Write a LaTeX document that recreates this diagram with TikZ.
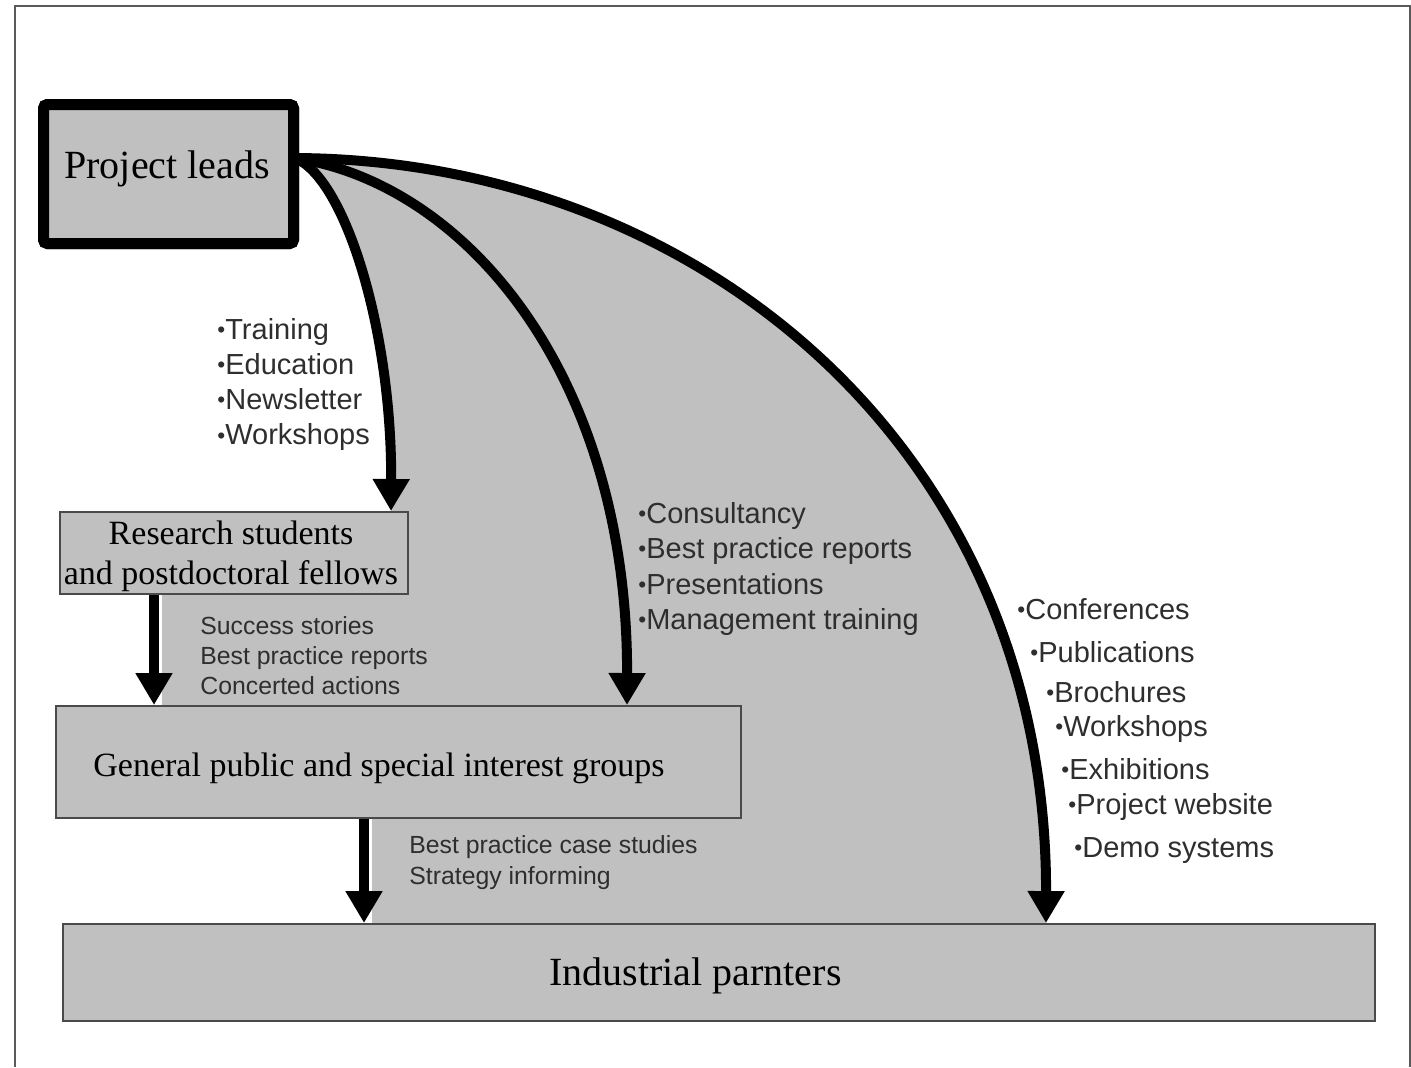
\documentclass[tikz,border=0pt]{standalone}
\usepackage{fontspec}
\usepackage{graphicx}
\setmainfont{Liberation Serif}
\setsansfont{Liberation Sans}
\usetikzlibrary{arrows.meta,calc}
\definecolor{boxgray}{HTML}{C0C0C0}
\definecolor{edgegray}{HTML}{4A4A4A}
\definecolor{framegray}{HTML}{5A5A5A}
\definecolor{txtgray}{HTML}{2E2E2E}
\newcommand{\smallbul}{\raisebox{0.12ex}{\scalebox{0.78}{\textbullet}}}
\begin{document}
\begin{tikzpicture}[x=0.5pt,y=-0.5pt,
  box/.style={draw=edgegray, line width=1pt, fill=boxgray, inner sep=0pt},
  flow/.style={line width=5pt, -{Triangle[width=17.5pt,length=16pt]}},
  bul/.style={anchor=base west, inner sep=0pt, font=\sffamily\fontsize{14.5}{17}\selectfont, text=txtgray},
  small/.style={anchor=base west, inner sep=0pt, font=\sffamily\fontsize{12.4}{15}\selectfont, text=txtgray},
  serif/.style={inner sep=0pt, text=black}]
\useasboundingbox (0,0) rectangle (1411,1067);
% frame
\draw[framegray, line width=1pt] (15,1067) -- (15,6) -- (1410,6) -- (1410,1067);

% boxes
\node[box, minimum width=174pt, minimum height=41pt] (rs) at (234,553) {};
\node[box, minimum width=342.5pt, minimum height=56pt] (gp) at (398.5,762) {};
\node[box, minimum width=656pt, minimum height=48.5pt] (ind) at (719,972.5) {};
\node[draw=black, line width=5.5pt, fill=boxgray, rounded corners=2pt, minimum width=125pt, minimum height=69.5pt, inner sep=0pt] (pl) at (168.5,174) {};

% connector end points
\coordinate (s) at ([shift={(-2pt,8pt)}]pl.east);
\coordinate (t1) at ($(rs.north west)+(332,0)$);
\coordinate (t2) at ($(gp.north west)+(572,0)$);
\coordinate (t3) at ($(ind.north west)+(984,0)$);

% gray region
\fill[boxgray] (s) .. controls (345,178) and (392,330) .. (t1) -- (162,512) -- (162,706) -- (372,706) -- (372,924) -- (t3) .. controls (1047,450) and (700,160) .. (s) -- cycle;

% redraw boxes on top of the fill
\node[box, minimum width=174pt, minimum height=41pt] at (rs) {};
\node[box, minimum width=342.5pt, minimum height=56pt] at (gp) {};
\node[box, minimum width=656pt, minimum height=48.5pt] at (ind) {};

% curved connectors
\draw[flow] (s) .. controls (345,178) and (392,330) .. (t1);
\draw[flow] (s) .. controls (470,185) and (628,380) .. (t2);
\draw[flow] (s) .. controls (700,160) and (1047,450) .. (t3);

% straight connectors
\draw[flow] ($(rs.south west)+(95,0)$) -- ($(gp.north west)+(99,0)$);
\draw[flow] ($(gp.south west)+(309,0)$) -- ($(ind.north west)+(302,0)$);

% project leads box on top
\node[draw=black, line width=5.5pt, fill=boxgray, rounded corners=2pt, minimum width=125pt, minimum height=69.5pt, inner sep=0pt] at (pl) {};
\node[serif, anchor=base west, font=\fontsize{20}{24}\selectfont] (plt) at (64,178) {Project leads};

% box texts
\node[serif, anchor=base, font=\fontsize{17}{20}\selectfont] (rst1) at (231,544) {Research students};
\node[serif, anchor=base, font=\fontsize{17}{20}\selectfont] (rst2) at (231,584) {and postdoctoral fellows};
\node[serif, anchor=base west, font=\fontsize{17}{20}\selectfont] (gpt) at (93,776) {General public and special interest groups};
\node[serif, anchor=base, font=\fontsize{20}{24}\selectfont] (indt) at (695.5,985) {Industrial parnters};

% lists
\foreach \t [count=\i from 0] in {Training,Education,Newsletter,Workshops}
  \node[bul] (tr\i) at (217,{339+35.3*\i}) {\smallbul\t};
\foreach \t [count=\i from 0] in {Consultancy,Best practice reports,Presentations,Management training}
  \node[bul] (co\i) at (638,{523+35.5*\i}) {\smallbul\t};
\foreach \t [count=\i from 0] in {Success stories,Best practice reports,Concerted actions}
  \node[small] (ss\i) at (200,{634+30*\i}) {\t};
\foreach \t [count=\i from 0] in {Best practice case studies,Strategy informing}
  \node[small] (bp\i) at (409,{853+31*\i}) {\t};
\foreach \t/\xx/\yy [count=\i] in {Conferences/1017/619, Publications/1030/662, Brochures/1046/702, Workshops/1055/736, Exhibitions/1061/779, Project website/1068/814, Demo systems/1074/857}
  \node[bul] (cf\i) at (\xx,\yy) {\smallbul\t};
\end{tikzpicture}
\end{document}
